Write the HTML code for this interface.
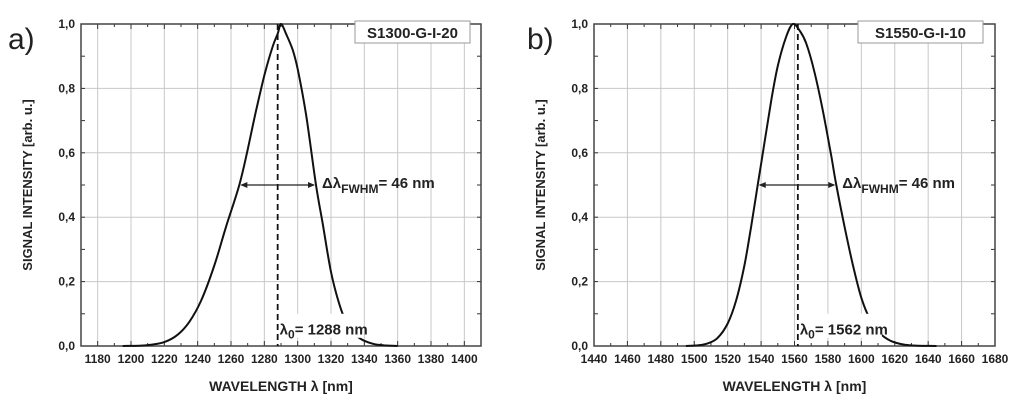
<!DOCTYPE html>
<html><head><meta charset="utf-8"><style>
body{margin:0;background:#fff;width:1024px;height:409px;overflow:hidden}
svg text{font-family:"Liberation Sans",Arial,sans-serif;font-weight:bold;fill:#222}
</style></head><body>
<svg id="chart" width="1024" height="409" xmlns="http://www.w3.org/2000/svg"></svg>
<script>
// Panel a data
const aWl = [1195,1205,1212,1220,1228,1235,1242,1250,1257,1265,1270,1275,1280,1285,1288,1290,1293,1297,1300,1305,1311,1315,1320,1325,1330,1337,1345,1352,1360];
const aI  = [0,0.001,0.004,0.012,0.035,0.075,0.14,0.25,0.37,0.50,0.61,0.73,0.84,0.93,0.97,1.0,0.97,0.92,0.86,0.72,0.50,0.38,0.23,0.13,0.065,0.025,0.007,0.002,0];
const aXTicks = [1180,1200,1220,1240,1260,1280,1300,1320,1340,1360,1380,1400];
// Panel b data
const bWl = [1495,1502,1508,1514,1520,1525,1530,1534,1538,1542,1546,1550,1555,1559,1563,1567,1572,1577,1582,1585,1590,1595,1600,1605,1611,1618,1626,1634,1645];
const bI  = [0,0.002,0.008,0.025,0.07,0.14,0.25,0.37,0.50,0.63,0.76,0.87,0.96,1.0,0.98,0.94,0.85,0.73,0.59,0.50,0.37,0.25,0.15,0.085,0.04,0.015,0.004,0.001,0];
const bXTicks = [1440,1460,1480,1500,1520,1540,1560,1580,1600,1620,1640,1660,1680];
const yTicks = [0,0.2,0.4,0.6,0.8,1.0];
const yTickLabels = ["0,0","0,2","0,4","0,6","0,8","1,0"];

const NS="http://www.w3.org/2000/svg";
const svg=document.getElementById('chart');
function mk(tag,attrs,parent,txt){const e=document.createElementNS(NS,tag);for(const k in attrs)e.setAttribute(k,attrs[k]);if(txt!==undefined)e.textContent=txt;(parent||svg).appendChild(e);return e;}
function smooth(pts){let d='M'+pts[0][0].toFixed(1)+','+pts[0][1].toFixed(1);
  for(let i=0;i<pts.length-1;i++){const p0=pts[Math.max(0,i-1)],p1=pts[i],p2=pts[i+1],p3=pts[Math.min(pts.length-1,i+2)];
    const c1=[p1[0]+(p2[0]-p0[0])/6,p1[1]+(p2[1]-p0[1])/6],c2=[p2[0]-(p3[0]-p1[0])/6,p2[1]-(p3[1]-p1[1])/6];
    d+=` C${c1[0].toFixed(1)},${c1[1].toFixed(1)} ${c2[0].toFixed(1)},${c2[1].toFixed(1)} ${p2[0].toFixed(1)},${p2[1].toFixed(1)}`;}
  return d;}

function panel(p){
  const g=mk('g',{});
  
  
  const X=v=>p.x0+(v-p.xmin)/(p.xmax-p.xmin)*(p.x1-p.x0);
  const Y=v=>p.y1-v*(p.y1-p.y0);
  p.xt.forEach(t=>{if(t>p.xmin&&t<p.xmax){const l=mk('line',{x1:X(t),x2:X(t),y1:p.y0,y2:p.y1,stroke:'#c8c8c8','stroke-width':1},g);}});
  yTicks.forEach(t=>{const l=mk('line',{x1:p.x0,x2:p.x1,y1:Y(t),y2:Y(t),stroke:'#c8c8c8','stroke-width':1},g);});
  for(let v=0;v<=1.001;v+=0.1){mk('line',{x1:p.x0,x2:p.x0+4,y1:Y(v),y2:Y(v),stroke:'#333'},g);mk('line',{x1:p.x1,x2:p.x1-4,y1:Y(v),y2:Y(v),stroke:'#333'},g);}
  for(let v=p.xmin;v<=p.xmax;v+=10){const big=(v%20===0);mk('line',{x1:X(v),x2:X(v),y1:p.y1,y2:p.y1-(big?5:3),stroke:'#333'},g);mk('line',{x1:X(v),x2:X(v),y1:p.y0,y2:p.y0+(big?5:3),stroke:'#333'},g);}
  const fr=mk('rect',{x:p.x0,y:p.y0,width:p.x1-p.x0,height:p.y1-p.y0,fill:'none',stroke:'#444','stroke-width':1.5},g);
  
  yTicks.forEach((t,i)=>{const e=mk('text',{x:p.x0-6,y:Y(t)+4,'font-size':12,'text-anchor':'end'},g,yTickLabels[i]);});
  p.xt.forEach(t=>{const e=mk('text',{x:X(t),y:p.y1+17,'font-size':12,'text-anchor':'middle'},g,String(t));});
  const xt=mk('text',{x:(p.x0+p.x1)/2,y:391,'font-size':14,'text-anchor':'middle'},g,'WAVELENGTH λ [nm]');
  
  const yt=mk('text',{x:0,y:0,'font-size':13,'text-anchor':'middle',transform:`translate(${p.x0-49},${(p.y0+p.y1)/2}) rotate(-90)`},g,'SIGNAL INTENSITY [arb. u.]');
  
  const pl=mk('text',{x:p.lx,y:49,'font-size':30,style:'font-weight:normal'},g,p.letter);
  
  const c=mk('path',{d:smooth(p.wl.map((w,i)=>[X(w),Y(p.I[i])])),fill:'none',stroke:'#111','stroke-width':2,'stroke-linejoin':'round'},g);
  
  const dl=mk('line',{x1:X(p.c),x2:X(p.c),y1:p.y0,y2:p.y1,stroke:'#111','stroke-width':1.8,'stroke-dasharray':'6,4'},g);
  
  const ay=Y(0.5);
  const ar=mk('line',{x1:X(p.h1)+2,x2:X(p.h2)-2,y1:ay,y2:ay,stroke:'#222','stroke-width':1.2},g);
  
  mk('path',{d:`M${X(p.h1)+1},${ay} l7,-3 l0,6 z`,fill:'#222'},g);
  mk('path',{d:`M${X(p.h2)-1},${ay} l-7,-3 l0,6 z`,fill:'#222'},g);
  const ft=mk('text',{x:X(p.h2)+6,y:ay+3,'font-size':15},g);
  
  mk('tspan',{},ft,'Δλ');mk('tspan',{dy:5,'font-size':12},ft,'FWHM');mk('tspan',{dy:-5},ft,'= 46 nm');
  mk('rect',{x:X(p.c)+2,y:Y(0.1),width:82,height:24,fill:'#fff'},g);
  const lt=mk('text',{x:X(p.c)+2,y:Y(0.035),'font-size':15},g);
  
  mk('tspan',{},lt,'λ');mk('tspan',{dy:4,'font-size':12},lt,'0');mk('tspan',{dy:-4},lt,'= '+p.c+' nm');
  const lb=mk('rect',{x:p.bx,y:21,width:p.bw,height:22,fill:'#fff',stroke:'#999','stroke-width':1},g);
  
  const ltx=mk('text',{x:p.bx+p.bw/2,y:38,'font-size':15,'text-anchor':'middle'},g,p.sample);
  
}
panel({name:'panel-a',letter:'a)',lx:8,x0:81,x1:481,y0:24,y1:346,xmin:1170,xmax:1410,xt:aXTicks,wl:aWl,I:aI,c:1288,h1:1265,h2:1311,bx:355,bw:115,sample:'S1300-G-I-20'});
panel({name:'panel-b',letter:'b)',lx:527,x0:594,x1:995,y0:24,y1:346,xmin:1440,xmax:1680,xt:bXTicks,wl:bWl,I:bI,c:1562,h1:1538,h2:1585,bx:858,bw:125,sample:'S1550-G-I-10'});
</script>
</body></html>
